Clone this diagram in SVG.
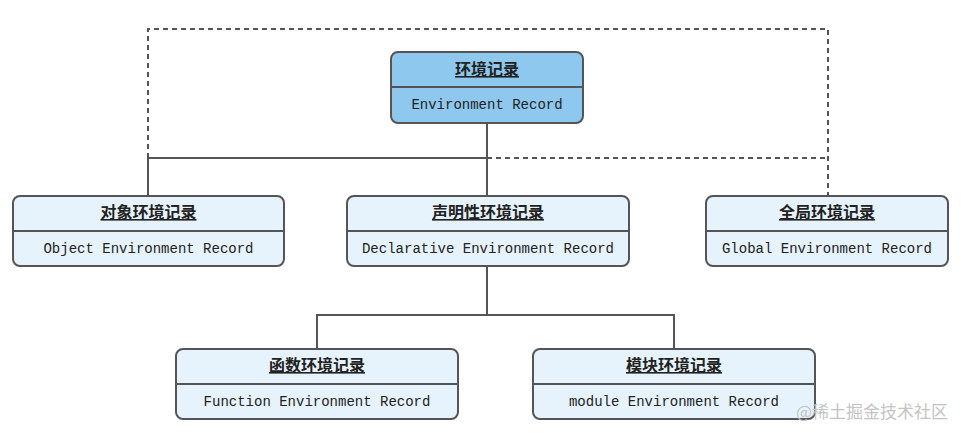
<svg xmlns="http://www.w3.org/2000/svg" width="972" height="440" viewBox="0 0 972 440">
<style>
.box{stroke:#555;stroke-width:2}
.root{fill:#8FC8EE}
.leaf{fill:#E6F3FC}
.div{stroke:#555;stroke-width:2}
.t{font-family:"Noto Sans CJK SC",sans-serif;font-size:16px;font-weight:bold;fill:#222;text-anchor:middle;text-decoration:underline}
.s{font-family:"Liberation Mono","DejaVu Sans Mono",monospace;font-size:14px;fill:#222;text-anchor:middle}
.solid{fill:none;stroke:#555;stroke-width:2}
.dash{fill:none;stroke:#555;stroke-width:2;stroke-dasharray:5 4}
.wm{font-family:"Noto Sans CJK SC",sans-serif;font-size:17px;fill:#c4c4c4}
</style>
<rect width="972" height="440" fill="#fff"/>
<g id="connectors">
<path class="dash" d="M148,158 V29 H828 V196"/>
<path class="dash" d="M487,158 H828"/>
<path class="solid" d="M487,123 V196 M487,158 H148 V196"/>
<path class="solid" d="M487,266 V315 M317,349 V315 H674 V349"/>
</g>
<g id="env">
<rect class="box root" x="391" y="52" width="192" height="71" rx="7"/>
<line class="div" x1="391" y1="87" x2="583" y2="87"/>
<text class="t" x="487" y="75">环境记录</text>
<text class="s" x="487" y="109">Environment Record</text>
</g>
<g id="object">
<rect class="box leaf" x="13" y="196" width="271" height="70" rx="7"/>
<line class="div" x1="13" y1="231" x2="284" y2="231"/>
<text class="t" x="148.5" y="218">对象环境记录</text>
<text class="s" x="148.5" y="253">Object Environment Record</text>
</g>
<g id="declarative">
<rect class="box leaf" x="347" y="196" width="282" height="70" rx="7"/>
<line class="div" x1="347" y1="231" x2="629" y2="231"/>
<text class="t" x="488" y="218">声明性环境记录</text>
<text class="s" x="488" y="253">Declarative Environment Record</text>
</g>
<g id="global">
<rect class="box leaf" x="706" y="196" width="242" height="70" rx="7"/>
<line class="div" x1="706" y1="231" x2="948" y2="231"/>
<text class="t" x="827" y="218">全局环境记录</text>
<text class="s" x="827" y="253">Global Environment Record</text>
</g>
<g id="function">
<rect class="box leaf" x="176" y="349" width="282" height="70" rx="7"/>
<line class="div" x1="176" y1="384" x2="458" y2="384"/>
<text class="t" x="317" y="371">函数环境记录</text>
<text class="s" x="317" y="406">Function Environment Record</text>
</g>
<g id="module">
<rect class="box leaf" x="533" y="349" width="282" height="70" rx="7"/>
<line class="div" x1="533" y1="384" x2="815" y2="384"/>
<text class="t" x="674" y="371">模块环境记录</text>
<text class="s" x="674" y="406">module Environment Record</text>
</g>
<text class="wm" x="796" y="418">@稀土掘金技术社区</text>
</svg>
